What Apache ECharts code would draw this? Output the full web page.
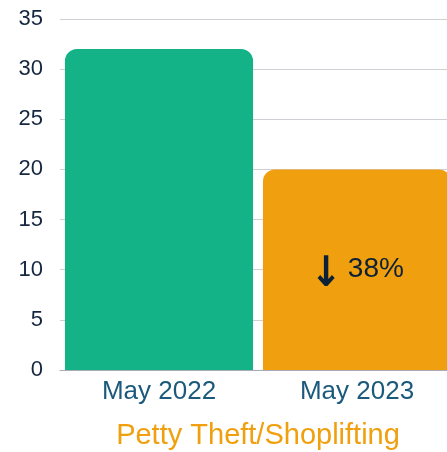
<!DOCTYPE html>
<html>
<head>
<meta charset="utf-8">
<script src="https://cdn.jsdelivr.net/npm/echarts@6/dist/echarts.min.js"></script>
<style>
  html, body { margin: 0; padding: 0; background: #fff; }
  #chart { width: 447px; height: 452px; }
</style>
</head>
<body>
<div id="chart"></div>
<script>
// data
const categories = ['May 2022', 'May 2023']
const values = [32, 20]
const barColors = ['#13b287', '#f0a00f']
const changeLabel = '38%'
const axisTitle = 'Petty Theft/Shoplifting'

const chart = echarts.init(document.getElementById('chart'))

const option = {
  animation: false,
  grid: {
    left: 60,
    width: 396,
    top: 19,
    bottom: 82,
    containLabel: false,
    outerBoundsMode: 'none'
  },
  xAxis: {
    type: 'category',
    data: categories,
    name: axisTitle,
    nameLocation: 'middle',
    nameGap: 51,
    nameTextStyle: {
      color: '#f0a00f',
      fontSize: 29,
      fontFamily: 'Liberation Sans'
    },
    axisLine: { show: true, lineStyle: { color: '#a9a9b8', width: 1 } },
    axisTick: { show: false },
    axisLabel: {
      color: '#1b5a7c',
      fontSize: 26,
      margin: 9,
      fontFamily: 'Liberation Sans'
    }
  },
  yAxis: {
    type: 'value',
    min: 0,
    max: 35,
    interval: 5,
    axisLine: { show: false },
    axisTick: { show: false },
    axisLabel: {
      color: '#15263f',
      fontSize: 22,
      margin: 17,
      fontFamily: 'Liberation Sans'
    },
    splitLine: { lineStyle: { color: '#cfcfd6', width: 1 } }
  },
  series: [{
    type: 'bar',
    barCategoryGap: '5%',
    data: values.map((v, i) => ({
      value: v,
      itemStyle: { color: barColors[i], borderRadius: [12, 12, 0, 0] },
      label: i === 1 ? {
        show: true,
        position: 'inside',
        formatter: '{a|↓}{b|' + changeLabel + '}',
        rich: {
          a: { fontSize: 42, fontWeight: 'bold', color: '#0d2036', fontFamily: 'DejaVu Sans Condensed', padding: [10, 6, 0, 0] },
          b: { fontSize: 28, color: '#0d2036', fontFamily: 'Liberation Sans' }
        }
      } : { show: false }
    }))
  }]
}

chart.setOption(option)
</script>
</body>
</html>
